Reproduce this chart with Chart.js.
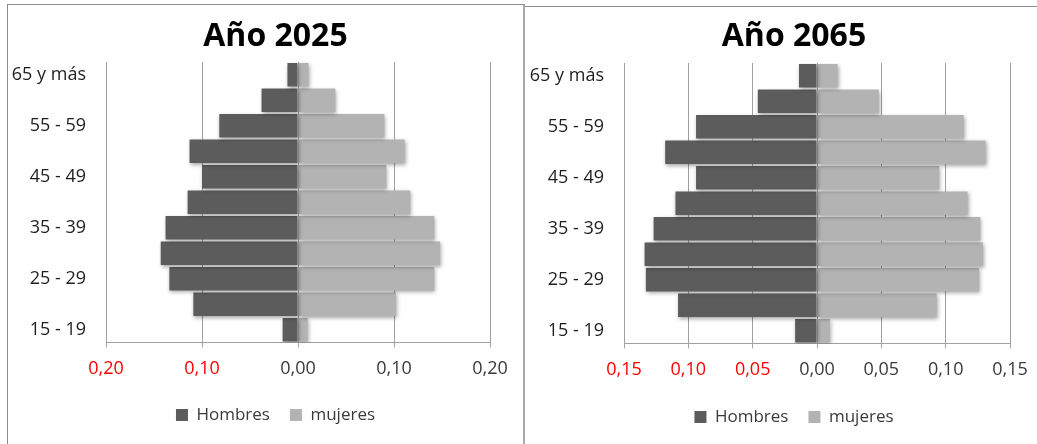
<!DOCTYPE html>
<html lang="es">
<head>
<meta charset="utf-8">
<title>Pirámides de población 2025 y 2065</title>
<script src="https://cdn.jsdelivr.net/npm/chart.js@4.4.1/dist/chart.umd.min.js"></script>
<style>
    html, body { margin: 0; padding: 0; background: #fff; }
    body { width: 1037px; height: 444px; position: relative; overflow: hidden; }
    .panel { position: absolute; box-sizing: border-box; }
    #panel1 { left: 7px; top: 4px; width: 518px; height: 460px;
              border-left: 1px solid #8c8c8c; border-top: 1px solid #8c8c8c; border-right: 2px solid #a8a8a8; }
    #panel2 { left: 525px; top: 6px; width: 520px; height: 460px; border-top: 1px solid #8c8c8c; }
    canvas { position: absolute; }
    #chart2025 { left: 8px; top: 5px; }
    #chart2065 { left: 526px; top: 7px; }
</style>
</head>
<body>
<div class="panel" id="panel1"></div>
<div class="panel" id="panel2"></div>
<canvas id="chart2025" width="533" height="439"></canvas>
<canvas id="chart2065" width="535" height="437"></canvas>

<script>
// pyramids.js - población por grupo de edad, 2025 vs 2065

// grupos de edad, de abajo hacia arriba
const ageGroups = ['15 - 19', '20 - 24', '25 - 29', '30 - 34', '35 - 39', '40 - 44',
                   '45 - 49', '50 - 54', '55 - 59', '60 - 64', '65 y más'];

// proporciones (hombres se dibujan hacia la izquierda)
const hombres2025 = [0.016, 0.109, 0.134, 0.143, 0.138, 0.115, 0.100, 0.113, 0.082, 0.038, 0.011];
const mujeres2025 = [0.010, 0.102, 0.142, 0.148, 0.142, 0.117, 0.092, 0.111, 0.090, 0.039, 0.011];
const hombres2065 = [0.017, 0.108, 0.133, 0.134, 0.127, 0.110, 0.094, 0.118, 0.094, 0.046, 0.014];
const mujeres2065 = [0.010, 0.093, 0.126, 0.129, 0.127, 0.117, 0.095, 0.131, 0.114, 0.048, 0.016];

// límites del eje horizontal
const axisMax2025 = 0.20, axisStep2025 = 0.10;
const axisMax2065 = 0.15, axisStep2065 = 0.05;

const FONT = "'Open Sans', 'DejaVu Sans', sans-serif";

// sombra suave bajo las barras, como en la hoja de cálculo
const barShadow = {
    id: 'barShadow',
    beforeDatasetDraw(chart) {
        const ctx = chart.ctx;
        ctx.save();
        ctx.shadowColor = 'rgba(0,0,0,0.35)';
        ctx.shadowBlur = 4;
        ctx.shadowOffsetX = 1;
        ctx.shadowOffsetY = 2;
    },
    afterDatasetDraw(chart) {
        chart.ctx.restore();
    }
};

function makePyramid(canvasId, title, hombres, mujeres, axisMax, axisStep, box) {
    const ctx = document.getElementById(canvasId).getContext('2d');

    return new Chart(ctx, {
        type: 'bar',
        data: {
            labels: ageGroups,
            datasets: [{
                label: 'Hombres',
                data: hombres.map(v => -v),
                backgroundColor: '#5c5c5c',
                borderWidth: 0,
                barPercentage: 1,
                categoryPercentage: 0.92
            }, {
                label: 'mujeres',
                data: mujeres,
                backgroundColor: '#b3b3b3',
                borderWidth: 0,
                barPercentage: 1,
                categoryPercentage: 0.92
            }]
        },
        options: {
            indexAxis: 'y',
            responsive: false,
            animation: false,
            layout: {
                padding: { left: box.left, right: 0, top: 0, bottom: box.bottom }
            },
            scales: {
                x: {
                    stacked: true,
                    min: -axisMax,
                    max: axisMax,
                    afterFit(scale) { scale.height = box.xHeight; },
                    ticks: {
                        stepSize: axisStep,
                        padding: 11,
                        font: { family: FONT, size: 18 },
                        color: function(c) {
                            return c.tick && c.tick.value < -1e-9 ? '#ff0000' : '#3a3a3a';
                        },
                        callback: function(value) {
                            return Math.abs(value).toFixed(2).replace('.', ',');
                        }
                    },
                    grid: { color: '#a0a0a0', tickLength: 5 },
                    border: { color: '#a0a0a0' }
                },
                y: {
                    stacked: true,
                    reverse: true,
                    afterFit(scale) { scale.width = box.yWidth; },
                    grid: { display: false, drawTicks: false },
                    border: { display: false },
                    ticks: {
                        autoSkip: false,
                        padding: 20,
                        font: { family: FONT, size: 18 },
                        color: '#1e1e1e',
                        callback: function(value, index) {
                            return index % 2 === 0 ? ageGroups[index] : '';
                        }
                    }
                },
                // espacio vacío a la derecha para centrar título y leyenda como en el original
                yRight: {
                    axis: 'y',
                    type: 'linear',
                    position: 'right',
                    afterFit(scale) { scale.width = box.rightGap; },
                    ticks: { display: false },
                    grid: { display: false },
                    border: { display: false }
                }
            },
            plugins: {
                title: {
                    display: true,
                    text: title,
                    color: '#000',
                    font: { family: FONT, size: 32, weight: 'bold' },
                    padding: { top: box.titleTop, bottom: box.titleBottom }
                },
                legend: {
                    position: 'bottom',
                    labels: {
                        boxWidth: 12,
                        boxHeight: 12,
                        padding: 20,
                        color: '#3a3a3a',
                        font: { family: FONT, size: 17 }
                    }
                },
                tooltip: { enabled: false }
            }
        },
        plugins: [barShadow]
    });
}

makePyramid('chart2025', 'Año 2025', hombres2025, mujeres2025, axisMax2025, axisStep2025,
    { left: 2, yWidth: 96, rightGap: 51, bottom: 10.6, xHeight: 44, titleTop: 13, titleBottom: 5.6 });
makePyramid('chart2065', 'Año 2065', hombres2065, mujeres2065, axisMax2065, axisStep2065,
    { left: 1, yWidth: 97, rightGap: 51, bottom: 8.6, xHeight: 45, titleTop: 11, titleBottom: 6.6 });
</script>
</body>
</html>
